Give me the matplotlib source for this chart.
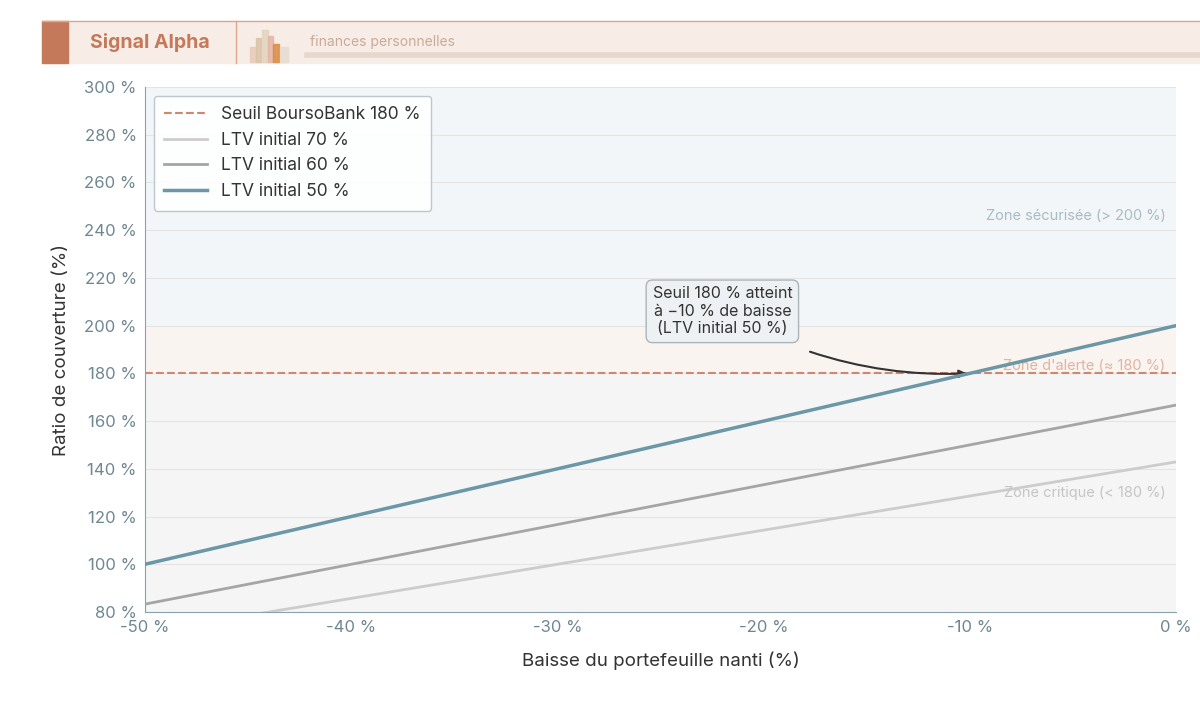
import matplotlib
matplotlib.use("Agg")
import matplotlib.pyplot as plt
from matplotlib.patches import Rectangle
import numpy as np

baisse = [-50, 0]
ltv50 = [100.0, 200.0]
ltv60 = [83.3, 166.7]
ltv70 = [71.4, 142.9]
seuil = 180
xticks = [-50, -40, -30, -20, -10, 0]
yticks = list(range(80, 301, 20))

plt.rcParams['font.family'] = ['Inter', 'DejaVu Sans']
fig = plt.figure(figsize=(12, 7.21), dpi=100)
W, H = 1200, 721

def fx(x): return x / W
def fy(y): return 1 - y / H
fig.patches.append(Rectangle((fx(42), fy(63)), fx(1200-42), (63-21)/H, transform=fig.transFigure, color='#f7ece6', zorder=0))
fig.patches.append(Rectangle((fx(42), fy(63)), fx(26), (63-21)/H, transform=fig.transFigure, color='#c47a5a', zorder=1))
fig.lines.append(plt.Line2D([fx(42), 1], [fy(21), fy(21)], transform=fig.transFigure, color='#d9a88e', lw=1))
fig.lines.append(plt.Line2D([fx(236), fx(236)], [fy(21), fy(63)], transform=fig.transFigure, color='#d9a88e', lw=1))
fig.lines.append(plt.Line2D([fx(307), 1], [fy(55), fy(55)], transform=fig.transFigure, color='#e8d8cc', lw=4))
fig.text(fx(90), fy(43), 'Signal Alpha', fontsize=14, fontweight='bold', color='#c47a5a', va='center')
fig.text(fx(310), fy(42), 'finances personnelles', fontsize=10, color='#c9ab98', va='center')
for (x0, w, top, c) in [(250, 6, 47, '#e8c9b8'), (256, 5, 38, '#d9c2a8'), (262, 6, 30, '#e3d3bf'), (268, 5, 36, '#e6b5a5'), (273, 6, 44, '#d98b40'), (280, 8, 47, '#e8dccf')]:
    fig.patches.append(Rectangle((fx(x0), fy(62)), fx(w), (62-top)/H, transform=fig.transFigure, color=c, alpha=0.85, zorder=2))

ax = fig.add_axes([145/W, 1-612/H, (1176-145)/W, (612-87)/H])
ax.set_xlim(-50, 0)
ax.set_ylim(80, 300)
ax.axhspan(200, 300, color='#f3f6f8', zorder=0)
ax.axhspan(180, 200, color='#faf4f0', zorder=0)
ax.axhspan(80, 180, color='#f5f5f5', zorder=0)
for y in yticks:
    ax.axhline(y, color='#e4e4e4', lw=0.8, zorder=0.5)

ax.axhline(seuil, color='#c98a70', ls='--', lw=1.5, label='Seuil BoursoBank 180 %', zorder=2)
ax.plot(baisse, ltv70, color='#cccccc', lw=2, label='LTV initial 70 %', zorder=3)
ax.plot(baisse, ltv60, color='#a5a5a5', lw=2, label='LTV initial 60 %', zorder=3)
ax.plot(baisse, ltv50, color='#6b97a6', lw=2.5, label='LTV initial 50 %', zorder=4)

ax.text(-0.5, 246, 'Zone sécurisée (> 200 %)', ha='right', va='center', fontsize=10.5, color='#a8bcc6')
ax.text(-0.5, 183, "Zone d'alerte (≈ 180 %)", ha='right', va='center', fontsize=10.5, color='#e0b4a2')
ax.text(-0.5, 130, 'Zone critique (< 180 %)', ha='right', va='center', fontsize=10.5, color='#c5c5c5')

ax.annotate('Seuil 180 % atteint\nà −10 % de baisse\n(LTV initial 50 %)', xy=(-10, 180), xytext=(-22, 206),
            ha='center', va='center', fontsize=11.5, color='#333333',
            bbox=dict(boxstyle='round,pad=0.4', fc='#eef1f3', ec='#aab4ba'),
            arrowprops=dict(arrowstyle='-|>', color='#333333', lw=1.5, connectionstyle='arc3,rad=0.15',
                            shrinkA=18))

ax.set_xticks(xticks)
ax.set_xticklabels([f'{v} %' for v in xticks])
ax.set_yticks(yticks)
ax.set_yticklabels([f'{v} %' for v in yticks])
ax.tick_params(colors='#6f8793', labelsize=12, length=0, pad=6)
ax.set_xlabel('Baisse du portefeuille nanti (%)', fontsize=13.5, color='#333333', labelpad=12)
ax.set_ylabel('Ratio de couverture (%)', fontsize=13.5, color='#333333', labelpad=10)
for s in ['top', 'right']:
    ax.spines[s].set_visible(False)
for s in ['left', 'bottom']:
    ax.spines[s].set_color('#8aa0aa')

leg = ax.legend(loc='upper left', fontsize=12.5, frameon=True, fancybox=True, framealpha=0.9,
                edgecolor='#b8c2c8', borderpad=0.6, handlelength=2.5)
leg.get_frame().set_facecolor('#ffffff')
for t in leg.get_texts():
    t.set_color('#333333')

fig.savefig('out.png', dpi=100)
